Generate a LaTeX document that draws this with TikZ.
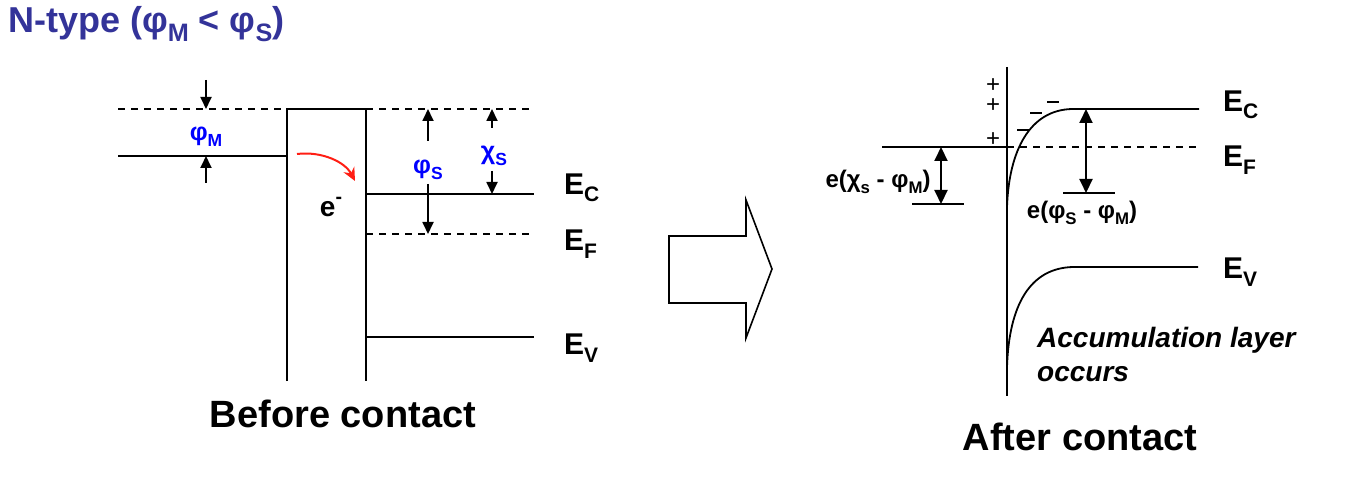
\documentclass[tikz,border=0pt]{standalone}
\usepackage{fontspec}
\setmainfont{Liberation Sans}
\usetikzlibrary{arrows.meta}
\definecolor{titleblue}{RGB}{51,51,153}
\definecolor{lblblue}{RGB}{0,0,255}
\definecolor{arrred}{RGB}{255,30,20}
\newcommand{\lsub}[1]{\raisebox{-0.25em}{\scalebox{0.7}{#1}}}
\newcommand{\lsup}[1]{\raisebox{0.45em}{\scalebox{0.7}{#1}}}
\begin{document}
\begin{tikzpicture}[x=1pt,y=-1pt,
  band/.style={line width=1.8pt},
  dashband/.style={line width=1.6pt, dash pattern=on 7pt off 6pt},
  smallarr/.style={line width=1.8pt,-{Triangle[length=12pt,width=11pt]}},
  dblarr/.style={line width=2pt,{Triangle[length=14pt,width=13pt]}-{Triangle[length=14pt,width=13pt]}},
  elbl/.style={font=\fontsize{30}{30}\selectfont\bfseries, inner sep=0pt, anchor=west},
  greek/.style={font=\fontsize{25}{25}\selectfont\bfseries, text=lblblue, inner sep=0pt},
  difflbl/.style={font=\fontsize{24}{24}\selectfont\bfseries, inner sep=0pt},
  pluslbl/.style={font=\fontsize{24}{20}\selectfont, inner sep=0pt, anchor=base, align=center},
  caption/.style={font=\fontsize{38}{38}\selectfont\bfseries, inner sep=0pt, anchor=base}]
\useasboundingbox (0,0) rectangle (1365,478);

% title
\node[anchor=base west, text=titleblue, inner sep=0pt, font=\fontsize{36}{36}\selectfont\bfseries] (title) at (8,33) {N-type (φ\lsub{M} < φ\lsub{S})};

% ---------- before contact ----------
\coordinate (mvacL) at (118,109);
\coordinate (boxTL) at (287,109);
\coordinate (boxTR) at (366,109);
\coordinate (svacR) at (534,109);
\coordinate (mfL) at (118,156);
\coordinate (mfR) at (287,156);
\coordinate (boxBL) at (287,381);
\coordinate (boxBR) at (366,381);
\coordinate (ecL) at (366,194);
\coordinate (ecR) at (534,194);
\coordinate (efL) at (366,234);
\coordinate (efR) at (534,234);
\coordinate (evL) at (366,337);
\coordinate (evR) at (534,337);

\draw[dashband] (mvacL) -- (boxTL);
\draw[dashband] (boxTR) -- (svacR);
\draw[band] (boxBL) -- (boxTL) -- (boxTR) -- (boxBR);
\draw[band] (mfL) -- (mfR);
\draw[band] (ecL) -- (ecR);
\draw[dashband] (efL) -- (efR);
\draw[band] (evL) -- (evR);

% phi_M arrows
\coordinate (pmA) at (206,80);
\coordinate (pmAt) at (206,109);
\coordinate (pmB) at (206,183);
\coordinate (pmBt) at (206,156);
\draw[smallarr] (pmA) -- (pmAt);
\draw[smallarr] (pmB) -- (pmBt);
\node[greek] (phiM) at (206,137) {φ\lsub{M}};

% phi_S arrows
\coordinate (psA) at (428,141);
\coordinate (psAt) at (428,109);
\coordinate (psB) at (428,184);
\coordinate (psBt) at (428,234);
\draw[smallarr] (psA) -- (psAt);
\draw[smallarr] (psB) -- (psBt);
\node[greek] (phiS) at (428,170) {φ\lsub{S}};

% chi_S arrows
\coordinate (csA) at (492,128);
\coordinate (csAt) at (492,109);
\coordinate (csB) at (492,171);
\coordinate (csBt) at (492,194);
\draw[smallarr] (csA) -- (csAt);
\draw[smallarr] (csB) -- (csBt);
\node[greek] (chiS) at (494,156) {χ\lsub{S}};

% electron transfer
\coordinate (redA) at (297,154);
\coordinate (redB) at (355,181);
\draw[arrred, line width=2pt, -{Stealth[length=13pt,width=12pt]}] (redA) .. controls (322,151) and (345,162) .. (redB);
\node[font=\fontsize{28}{28}\selectfont\bfseries, inner sep=0pt] (elec) at (331,207) {e\lsup{-}};

\node[elbl] (EC1) at (564,188) {E\lsub{C}};
\node[elbl] (EF1) at (564,244) {E\lsub{F}};
\node[elbl] (EV1) at (564,348) {E\lsub{V}};

\node[caption] (before) at (343,427) {Before contact};

% ---------- block arrow ----------
\draw[line width=1.6pt] (669,236) -- (746,236) -- (746,200) -- (772,269) -- (746,338) -- (746,303) -- (669,303) -- cycle;

% ---------- after contact ----------
\coordinate (ifT) at (1007,67);
\coordinate (ifB) at (1007,396);
\draw[band] (ifT) -- (ifB);

\coordinate (mf2L) at (882,147);
\coordinate (mf2R) at (1007,147);
\coordinate (ef2R) at (1199,147);
\draw[band] (mf2L) -- (mf2R);
\draw[dashband] (mf2R) -- (ef2R);

% conduction band
\coordinate (ec2S) at (1007,207);
\coordinate (ec2K) at (1072,109);
\coordinate (ec2R) at (1199,109);
\draw[band] (ec2S) .. controls (1009,150) and (1030,110) .. (ec2K) -- (ec2R);

% valence band
\coordinate (ev2S) at (1007,367);
\coordinate (ev2K) at (1073,267);
\coordinate (ev2R) at (1198,267);
\draw[band] (ev2S) .. controls (1009,305) and (1030,268) .. (ev2K) -- (ev2R);

% charges
\node[pluslbl] (p12) at (993,113) {+\\+};
\node[pluslbl] (p3) at (993,147) {+};
\foreach \n/\x/\y in {m1/1023/130, m2/1036/113, m3/1053/102}{
  \coordinate (\n a) at (\x-6,\y);
  \coordinate (\n b) at (\x+6,\y);
  \draw[line width=1.3pt] (\n a) -- (\n b);
}

% e(chi_s - phi_M)
\coordinate (d1T) at (941,147);
\coordinate (d1B) at (941,204);
\coordinate (d1L) at (912,204);
\coordinate (d1R) at (964,204);
\draw[dblarr] (d1T) -- (d1B);
\draw[band] (d1L) -- (d1R);
\node[difflbl] (lbl1) at (878,182) {e(χ\lsub{s} - φ\lsub{M})};

% e(phi_S - phi_M)
\coordinate (d2T) at (1086,109);
\coordinate (d2B) at (1086,193);
\coordinate (d2L) at (1063,193);
\coordinate (d2R) at (1115,193);
\draw[dblarr] (d2T) -- (d2B);
\draw[band] (d2L) -- (d2R);
\node[difflbl] (lbl2) at (1082,213) {e(φ\lsub{S} - φ\lsub{M})};

\node[elbl] (EC2) at (1223,105) {E\lsub{C}};
\node[elbl] (EF2) at (1223,160) {E\lsub{F}};
\node[elbl] (EV2) at (1223,272) {E\lsub{V}};

\node[font=\fontsize{28}{34}\selectfont\bfseries\itshape, inner sep=0pt, anchor=base west, align=left] (accum) at (1037,381) {Accumulation layer\\occurs};

\node[caption] (after) at (1080,450) {After contact};
\end{tikzpicture}
\end{document}
